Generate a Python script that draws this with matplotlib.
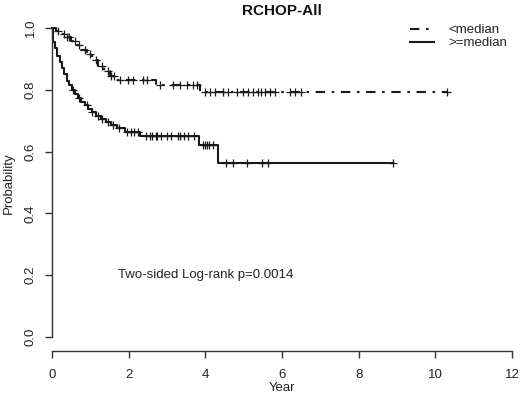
import numpy as np
import matplotlib
matplotlib.use("Agg")
import matplotlib.pyplot as plt

plt.rcParams['font.family'] = ['Liberation Sans', 'DejaVu Sans']

title = "RCHOP-All"
x_label = "Year"
y_label = "Probability"
x_ticks = [0, 2, 4, 6, 8, 10, 12]
y_ticks = [0.0, 0.2, 0.4, 0.6, 0.8, 1.0]
y_tick_labels = ["0.0", "0.2", "0.4", "0.6", "0.8", "1.0"]
series_names = ["<median", ">=median"]
annotation = "Two-sided Log-rank p=0.0014"

# >=median group (solid)
hi_times = [0, 0.02, 0.08, 0.14, 0.2, 0.26, 0.32, 0.38, 0.45, 0.52, 0.6, 0.68,
            0.76, 0.85, 0.95, 1.05, 1.15, 1.27, 1.4, 1.55, 1.7, 1.9, 2.3, 3.83, 4.34]
hi_surv = [1.0, 0.955, 0.935, 0.91, 0.89, 0.87, 0.85, 0.83, 0.815, 0.80, 0.785, 0.772,
           0.76, 0.75, 0.738, 0.727, 0.716, 0.705, 0.695, 0.685, 0.676, 0.665, 0.652, 0.622, 0.563]
hi_end = 8.9
hi_censor = [0.55, 0.7, 0.9, 1.05, 1.2, 1.3, 1.45, 1.6, 1.75, 1.95, 2.05, 2.15, 2.25,
             2.45, 2.55, 2.6, 2.7, 2.75, 2.85, 3.0, 3.1, 3.3, 3.35, 3.45, 3.55, 3.7,
             3.95, 4.0, 4.05, 4.1, 4.2, 4.55, 4.72, 5.08, 5.47, 5.63, 8.9]

# <median group (dot-dash)
lo_times = [0, 0.1, 0.2, 0.35, 0.5, 0.62, 0.75, 0.9, 1.05, 1.2, 1.35, 1.5, 1.65, 2.7, 3.86]
lo_surv = [1.0, 0.99, 0.98, 0.97, 0.958, 0.945, 0.93, 0.915, 0.897, 0.878, 0.86, 0.845,
           0.832, 0.815, 0.793]
lo_end = 10.3
lo_censor = [0.15, 0.3, 0.4, 0.45, 0.6, 0.7, 0.85, 1.0, 1.15, 1.3, 1.45, 1.55, 1.62,
             1.77, 1.98, 2.11, 2.37, 2.48, 2.82, 3.16, 3.34, 3.52, 3.68, 3.78, 3.99,
             4.12, 4.25, 4.46, 4.6, 4.83, 4.98, 5.11, 5.24, 5.37, 5.45, 5.56, 5.69,
             5.82, 6.2, 6.34, 6.5, 10.3]

fig = plt.figure(figsize=(5.2, 3.94), dpi=100)
ax = fig.add_axes([52 / 520, 43 / 394, 460 / 520, 336 / 394])

ink = "#1a1a1a"


def step_xy(times, surv, end):
    t = list(times) + [end]
    s = list(surv) + [surv[-1]]
    return t, s


def surv_at(times, surv, pts):
    idx = np.searchsorted(np.asarray(times), np.asarray(pts), side="right") - 1
    return np.asarray(surv)[idx]


dotdash = (0, (4.5, 3.2, 1.2, 3.2))
lw = 1.5

t, s = step_xy(lo_times, lo_surv, lo_end)
l1, = ax.step(t, s, where="post", color=ink, lw=lw, linestyle=dotdash, clip_on=False)
ax.plot(lo_censor, surv_at(lo_times, lo_surv, lo_censor), linestyle="none",
        marker="+", ms=6, mew=0.9, color=ink, clip_on=False)

t, s = step_xy(hi_times, hi_surv, hi_end)
l2, = ax.step(t, s, where="post", color=ink, lw=lw, linestyle="-", clip_on=False)
ax.plot(hi_censor, surv_at(hi_times, hi_surv, hi_censor), linestyle="none",
        marker="+", ms=6, mew=0.9, color=ink, clip_on=False)

ax.set_xlim(0, 12)
ax.set_ylim(-0.0453, 1.042)

for sp in ["top", "right"]:
    ax.spines[sp].set_visible(False)
ax.spines["left"].set_bounds(0, 1)
ax.spines["bottom"].set_bounds(0, 12)
for sp in ["left", "bottom"]:
    ax.spines[sp].set_color("#333333")
    ax.spines[sp].set_linewidth(1.0)

ax.set_xticks(x_ticks)
ax.set_xticklabels([str(v) for v in x_ticks])
ax.set_yticks(y_ticks)
ax.set_yticklabels(y_tick_labels, rotation=90, va="center")
ax.tick_params(axis="both", direction="out", length=5, width=1.0, color="#333333",
               labelsize=9.5, labelcolor="#222222")
ax.tick_params(axis="x", pad=8)
ax.tick_params(axis="y", pad=6)

fig.text(282 / 520, 1 - 11 / 394, title, ha="center", va="center", fontsize=11,
         fontweight="bold", color="#111111")
fig.text(282 / 520, 1 - 388 / 394, x_label, ha="center", va="center", fontsize=9.5, color="#222222")
fig.text(9 / 520, 1 - 183 / 394, y_label, ha="center", va="center", rotation=90,
         fontsize=9.5, color="#222222")

ax.text(1.72, 0.2, annotation, ha="left", va="center", fontsize=9.5, color="#222222")

leg = ax.legend([l1, l2], series_names, loc="upper left", frameon=False,
                bbox_to_anchor=(410 / 520, 1 - 24 / 394), bbox_transform=fig.transFigure,
                fontsize=9.5, handlelength=1.8, handletextpad=1.1, labelspacing=0.05,
                borderaxespad=0, borderpad=0)
for txt in leg.get_texts():
    txt.set_color("#222222")

fig.savefig("out.png", dpi=100)
